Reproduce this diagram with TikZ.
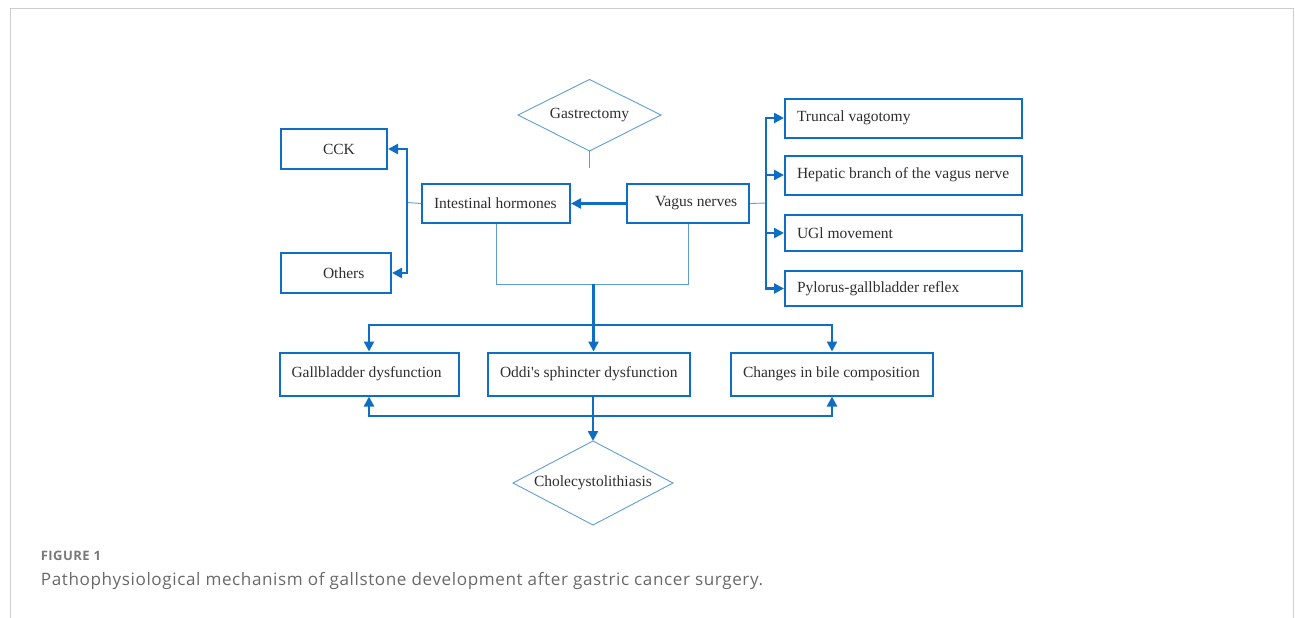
\documentclass[tikz,border=0pt]{standalone}
\usepackage{fontspec}
\setmainfont{Liberation Serif}[Ligatures=TeXOff]
\newfontfamily\capfont[LetterSpace=3.5]{Open Sans}
\usetikzlibrary{shapes.geometric,arrows.meta}
\definecolor{boxblue}{RGB}{15,110,195}
\definecolor{thinblue}{RGB}{95,158,212}
\definecolor{framegray}{RGB}{205,205,205}
\definecolor{capgray}{RGB}{105,105,105}
\newcommand{\lbl}[2]{\makebox[#1pt][l]{#2}}
\begin{document}
\begin{tikzpicture}[x=1pt,y=-1pt,
  box/.style={draw=boxblue,line width=2pt,inner ysep=0pt,inner xsep=12pt,font=\fontsize{15.5}{18}\selectfont,text=black!82},
  dtext/.style={inner sep=0pt,font=\fontsize{15.5}{18}\selectfont,text=black!82},
  diaborder/.style={draw=thinblue,line width=0.9pt},
  thickline/.style={draw=boxblue,line width=2.3pt},
  arr/.style={thickline,-{Triangle[length=10pt,width=10pt]}},
  thinline/.style={draw=thinblue,line width=0.9pt}]
\useasboundingbox (0,0) rectangle (1295,618);
\draw[framegray,line width=1pt] (10,618) -- (10,8.5) -- (1293,8.5) -- (1293,618);

% Gastrectomy diamond
\node[dtext] (gas) at (589.5,115) {Gastrectomy};
\coordinate (gasN) at (589.5,79.5);
\coordinate (gasE) at (661,115);
\coordinate (gasS) at (589.5,151);
\coordinate (gasW) at (518,115);
\draw[diaborder] (gasN) -- (gasE) -- (gasS) -- (gasW) -- cycle;
\coordinate (gasend) at (589.5,168);

% boxes
\node[box,inner xsep=42pt,minimum width=106pt,minimum height=40pt] (cck) at (334,149) {\lbl{22}{CCK}};
\node[box,inner xsep=42pt,minimum width=110pt,minimum height=40pt] (oth) at (336,273) {\lbl{26}{Others}};
\node[box,minimum width=148pt,minimum height=39pt] (ih) at (496,203.5) {\lbl{124}{Intestinal hormones}};
\node[box,inner xsep=28pt,minimum width=122pt,minimum height=39pt] (vn) at (688,203.5) {\lbl{66}{Vagus nerves}};
\node[box,minimum width=237pt,minimum height=39pt] (tv) at (903.5,118) {\lbl{213}{Truncal vagotomy}};
\node[box,minimum width=237pt,minimum height=39pt] (hb) at (903.5,175) {\lbl{213}{Hepatic branch of the vagus nerve}};
\node[box,minimum width=237pt,minimum height=36pt] (ugl) at (903.5,233) {\lbl{213}{UGl movement}};
\node[box,minimum width=237pt,minimum height=35pt] (pyl) at (903.5,288.5) {\lbl{213}{Pylorus-gallbladder reflex}};
\node[box,minimum width=179pt,minimum height=43pt] (gb) at (369,374) {\lbl{155}{Gallbladder dysfunction}};
\node[box,minimum width=202pt,minimum height=43pt] (od) at (589,374) {\lbl{178}{Oddi's sphincter dysfunction}};
\node[box,minimum width=202pt,minimum height=43pt] (ch) at (832,374) {\lbl{178}{Changes in bile composition}};

% Cholecystolithiasis diamond
\node[dtext] (chol) at (593,483) {Cholecystolithiasis};
\coordinate (cholN) at (593,441);
\coordinate (cholE) at (673,483);
\coordinate (cholS) at (593,525);
\coordinate (cholW) at (513,483);
\draw[diaborder] (cholN) -- (cholE) -- (cholS) -- (cholW) -- cycle;

% connectors
\draw[thinline] (gasS) -- (gasend);

\coordinate (lb) at (407,202.5);
\draw[thinline] (ih.west) -- (lb);
\draw[arr] (lb) |- (cck.east);
\draw[arr] (lb) |- (oth.east);

\coordinate (rb) at (766,203);
\draw[thinline] (vn.east) -- (rb);
\draw[arr] (rb) |- (tv.west);
\draw[arr] (rb) |- (hb.west);
\draw[arr] (rb) |- (ugl.west);
\draw[arr] (rb) |- (pyl.west);

\draw[arr] (vn.west) -- (ih.east);

\coordinate (j) at (593.5,284);
\draw[thinline] (ih.south) -- (ih.south |- j) -- (vn.south |- j) -- (vn.south);

\coordinate (sp) at (593.5,325);
\draw[arr] (j) -- (j |- od.north);
\draw[arr] (sp) -| (gb.north);
\draw[arr] (sp) -| (ch.north);

\coordinate (bp) at (593,416);
\draw[thickline] (cholN |- od.south) -- (bp);
\draw[arr] (bp) -- (cholN);
\draw[arr] (bp) -| (gb.south);
\draw[arr] (bp) -| (ch.south);

% caption
\node[anchor=base west,inner sep=0pt,font=\capfont\bfseries\fontsize{13}{15}\selectfont,text=capgray!90] (fig) at (40.7,560.7) {FIGURE 1};
\node[anchor=base west,inner sep=0pt,font=\capfont\fontsize{17.1}{20}\selectfont,text=capgray] (cap) at (40.7,585) {Pathophysiological mechanism of gallstone development after gastric cancer surgery.};
\end{tikzpicture}
\end{document}
